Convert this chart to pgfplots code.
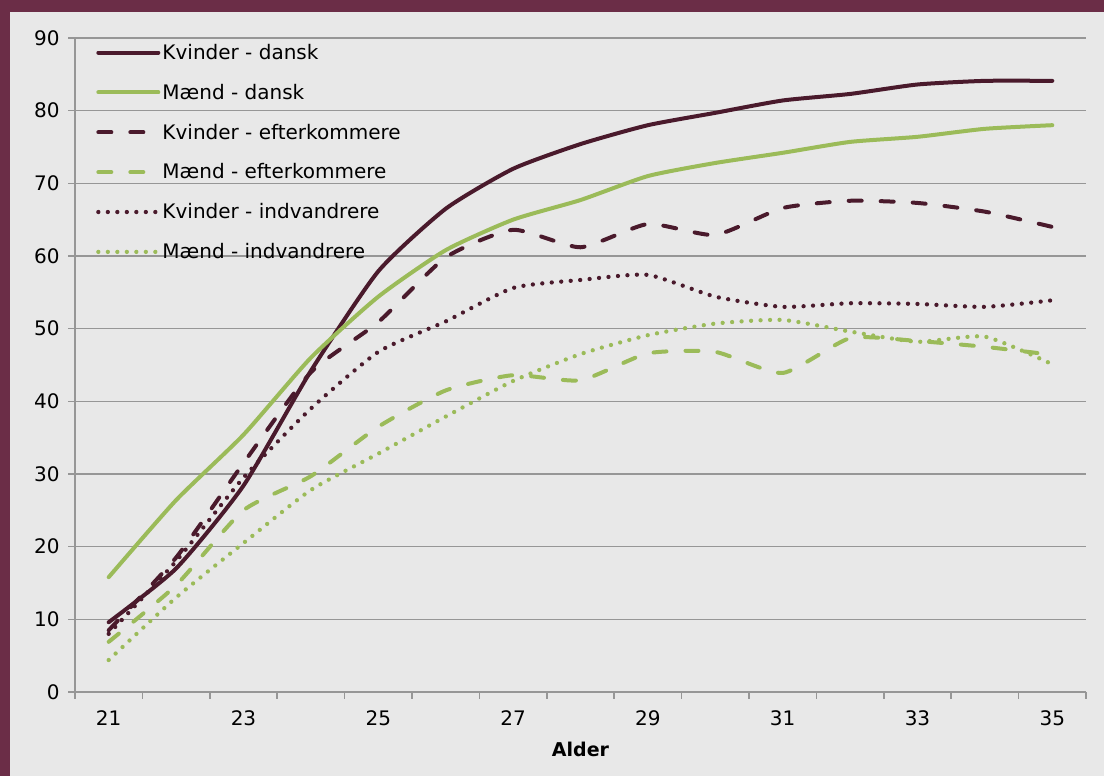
\documentclass[border=0pt]{standalone}
\usepackage{pgfplots}
\pgfplotsset{compat=1.18}
\usepackage{fontspec}
\setmainfont{DejaVu Sans}
\definecolor{maroon}{HTML}{4A1A2C}
\definecolor{kgreen}{HTML}{9BBB59}
\definecolor{framec}{HTML}{6B2D47}
\definecolor{bg}{HTML}{E8E8E8}
\definecolor{gridc}{HTML}{969696}

\pgfplotstableread{
x kd md ke me ki mi
21 9.6  15.8 8.5  6.9  8.0  4.4
22 17.0 26.4 18.5 14.7 18.0 13.0
23 28.4 35.4 31.5 25.0 29.5 20.5
24 44.2 46.0 44.0 29.7 39.0 27.8
25 57.9 54.4 50.9 36.5 46.8 32.8
26 66.5 60.8 59.8 41.5 51.0 37.9
27 72.0 65.0 63.6 43.6 55.6 42.8
28 75.4 67.7 61.2 42.9 56.7 46.5
29 78.0 71.0 64.4 46.6 57.4 49.1
30 79.7 72.8 62.9 46.8 54.4 50.7
31 81.4 74.2 66.6 43.9 53.0 51.2
32 82.3 75.7 67.6 48.7 53.5 49.6
33 83.6 76.4 67.3 48.3 53.4 48.2
34 84.1 77.5 66.1 47.5 53.0 48.9
35 84.1 78.0 64.0 46.4 53.9 45.1
}\data

\begin{document}
\begin{tikzpicture}[x=1bp,y=1bp]
\fill[bg] (0,0) rectangle (1104,776);
\useasboundingbox (0,0) rectangle (1104,776);
\fill[framec] (0,764) rectangle (1104,776);
\fill[framec] (0,0) rectangle (10,776);
\begin{axis}[
  at={(75bp,84bp)}, anchor=south west,
  scale only axis, width=1011bp, height=654bp,
  xmin=20.5, xmax=35.5, ymin=0, ymax=90,
  axis x line=bottom, axis y line=left,
  axis line style={-, gridc, line width=1.5bp},
  xtick={21,23,...,35}, minor xtick={20.5,21.5,...,35.5},
  ytick={0,10,...,90},
  major x tick style={draw=none},
  tick style={gridc, line width=1.5bp},
  tick align=outside, major tick length=7bp, minor tick length=7bp,
  ymajorgrids, major grid style={gridc, line width=1.5bp},
  /pgf/number format/assume math mode=true,
  ticklabel style={font=\fontsize{20bp}{22bp}\selectfont, black},
  xticklabel style={yshift=-8bp},
  yticklabel style={xshift=-5bp},
  xlabel={\textbf{Alder}},
  xlabel style={font=\fontsize{19bp}{22bp}\selectfont, yshift=-10bp},
  legend style={at={(rel axis cs:0,1)}, anchor=north west, xshift=18bp, yshift=-2bp,
    draw=none, fill=none, font=\fontsize{20bp}{22bp}\selectfont, row sep=19.2bp},
  legend cell align=left,
  legend image code/.code={\draw[#1] (0bp,0bp) -- (60bp,0bp);},
  every axis plot/.append style={line width=4bp, smooth, tension=0.35, line cap=round},
]
\addplot[maroon] table[x=x,y=kd] {\data};
\addlegendentry{Kvinder - dansk}
\addplot[kgreen] table[x=x,y=md] {\data};
\addlegendentry{Mænd - dansk}
\addplot[maroon, dash pattern=on 13bp off 19bp] table[x=x,y=ke] {\data};
\addlegendentry{Kvinder - efterkommere}
\addplot[kgreen, dash pattern=on 13bp off 19bp] table[x=x,y=me] {\data};
\addlegendentry{Mænd - efterkommere}
\addplot[maroon, dash pattern=on 0bp off 9.5bp, line width=4.3bp] table[x=x,y=ki] {\data};
\addlegendentry{Kvinder - indvandrere}
\addplot[kgreen, dash pattern=on 0bp off 9.5bp, line width=4.3bp] table[x=x,y=mi] {\data};
\addlegendentry{Mænd - indvandrere}
\end{axis}
\end{tikzpicture}
\end{document}
